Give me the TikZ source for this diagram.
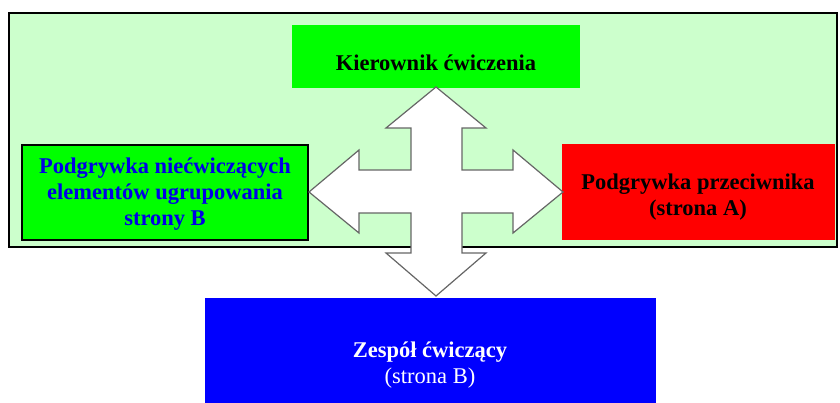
\documentclass[tikz,border=0pt]{standalone}
\usepackage{fontspec}
\setmainfont{Liberation Serif}
\definecolor{panelgreen}{RGB}{204,255,204}
\definecolor{boxgreen}{RGB}{0,255,0}
\definecolor{boxred}{RGB}{255,0,0}
\definecolor{boxblue}{RGB}{0,0,255}
\definecolor{textblue}{RGB}{0,0,230}
\begin{document}
\begin{tikzpicture}[x=1pt,y=-1pt,
  boxtext/.style={font=\fontsize{22.5}{26}\selectfont\bfseries, align=center, inner sep=0pt},
  crossarrow/.style={draw=black!60, line width=1.2pt, fill=white, line join=miter}]
\useasboundingbox (0,0) rectangle (840,403);
% outer light green panel
\draw[fill=panelgreen, line width=1.5pt] (9,13) rectangle (837,247);
% boxes
\fill[boxgreen] (292,25) rectangle (580,88);
\draw[fill=boxgreen, line width=1.2pt] (22,145) rectangle (308,240);
\fill[boxred] (562,144) rectangle (835,240);
\fill[boxblue] (205,298) rectangle (656,403);
% texts
\node[boxtext] (kier) at (436,63) {Kierownik ćwiczenia};
\node[boxtext, text=textblue] (podB) at (165,194) {Podgrywka niećwiczących\\elementów ugrupowania\\strony B};
\node[boxtext] (podA) at (698,197) {Podgrywka przeciwnika\\(strona A)};
\node[boxtext, text=white] (zesp) at (430,365) {Zespół ćwiczący\\\mdseries(strona B)};
% four-headed arrow
\draw[crossarrow] (436,87) -- (486,128) -- (462,128) -- (462,170) -- (513,170) -- (513,150)
  -- (563,192) -- (513,233) -- (513,213) -- (462,213) -- (462,253) -- (486,253)
  -- (436,296) -- (386,253) -- (411,253) -- (411,213) -- (359,213) -- (359,233)
  -- (309,192) -- (359,150) -- (359,170) -- (411,170) -- (411,128) -- (386,128) -- cycle;
\end{tikzpicture}
\end{document}
